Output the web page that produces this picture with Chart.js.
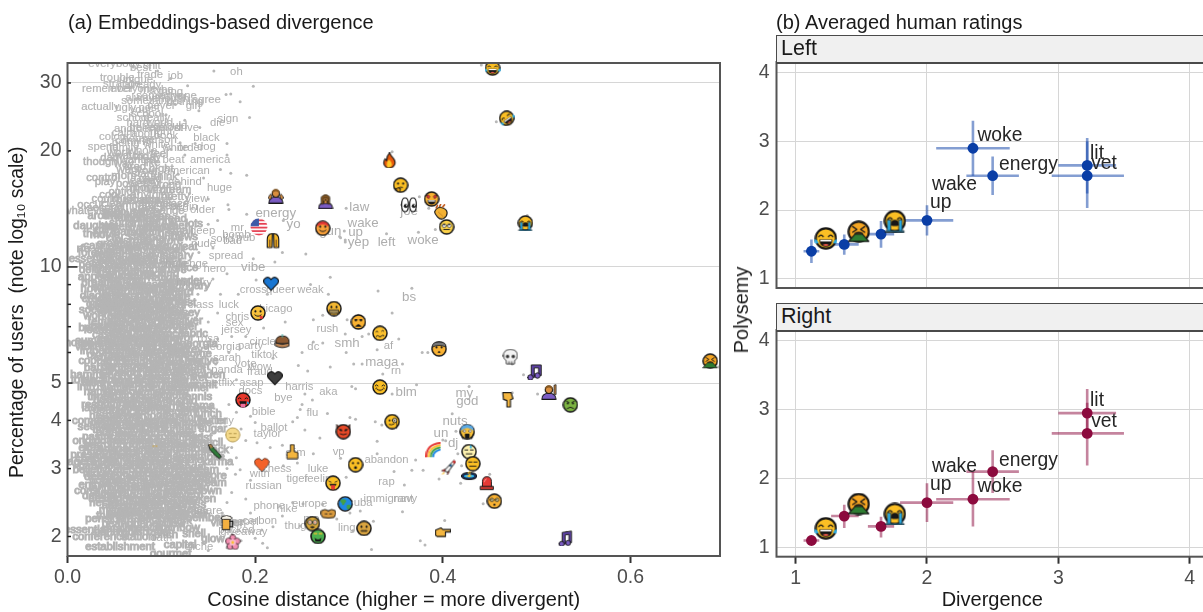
<!doctype html>
<html><head><meta charset="utf-8">
<script src="https://cdn.jsdelivr.net/npm/chart.js@4"></script>
<style>
html,body{margin:0;padding:0;width:1203px;height:612px;overflow:hidden;background:#fff;font-family:'Liberation Sans',Arial,sans-serif;color:#1a1a1a}
canvas{position:absolute}
.t{position:absolute;white-space:nowrap;font-size:20px;line-height:24px}
.strip{position:absolute;left:776px;width:440px;height:26px;background:#f0f0f0;border:1.5px solid #4a4a4a;border-bottom-width:2.5px;font-size:21.5px;line-height:25px;padding-left:4px;box-sizing:content-box}
</style></head><body>
<canvas id="a" width="730" height="612" style="left:0;top:0"></canvas>
<canvas id="bl" width="490" height="258" style="left:730px;top:45px"></canvas>
<canvas id="br" width="490" height="299" style="left:730px;top:313px"></canvas>
<div class="t" style="left:68px;top:10px">(a) Embeddings-based divergence</div>
<div class="t" style="left:776px;top:10px">(b) Averaged human ratings</div>
<div class="strip" style="top:35px">Left</div>
<div class="strip" style="top:303px">Right</div>
<div class="t" style="left:741px;top:310px;transform:translate(-50%,-50%) rotate(-90deg)">Polysemy</div>
<script>
/* ---------- panel (a) axis values ---------- */
const xTicksA=[0,0.2,0.4,0.6];
const yMarksA=[2,3,4,5,6,7,8,9,10,20,30];
const yLabelsA=[2,3,4,5,10,20,30];
const yGridA=[5,10,30];

/* ---------- panel (a) words: [text, cosine distance, % users] ---------- */
const wordsFringe=[["oh",.18,32.1],["job",.115,31.3],["sign",.171,24.2],["die",.16,23.6],["drive",.127,22.9],["book",.105,21.9],["black",.148,21.6],["order",.131,20.3],["dog",.148,20.5],["white",.095,20.7],["beat",.113,18.9],["america",.152,19],["american",.127,17.8],["behind",.125,16.6],["huge",.162,16],["view",.138,15],["begin",.124,14.3],["older",.144,14.1],["energy",.222,13.8],["yo",.241,12.9],["law",.311,14.3],["wake",.315,13],["gun",.28,12.4],["up",.307,12.3],["yep",.31,11.6],["left",.34,11.6],["woke",.379,11.75],["joe",.364,13.9],["bs",.364,8.35],["vibe",.198,10],["spread",.169,10.7],["hero",.157,9.9],["challenge",.124,10.2],["cross",.198,8.7],["queer",.227,8.7],["weak",.259,8.7],["military",.135,9.1],["mr",.181,12.6],["deep",.144,12.4],["bomb",.18,12.1],["pub",.19,11.9],["bad",.176,11.7],["solid",.165,11.8],["nude",.145,11.5],["class",.142,7.95],["luck",.172,7.95],["chris",.181,7.4],["chicago",.219,7.8],["rush",.277,6.9],["smh",.298,6.33],["dc",.262,6.2],["af",.342,6.24],["maga",.335,5.67],["rn",.35,5.37],["blm",.361,4.74],["my",.423,4.7],["god",.426,4.47],["nuts",.413,3.97],["un",.398,3.7],["dj",.411,3.48],["abandon",.34,3.16],["rap",.34,2.77],["immigrant",.342,2.5],["navy",.36,2.5],["cuba",.312,2.44],["lingo",.301,2.11],["harris",.247,4.88],["aka",.278,4.74],["bye",.23,4.58],["fraud",.205,5.33],["bible",.209,4.2],["flu",.261,4.18],["ballot",.22,3.83],["taylor",.213,3.7],["slim",.243,3.3],["vp",.289,3.31],["luke",.267,3],["chess",.223,3],["with",.205,2.9],["russian",.209,2.7],["tiger",.245,2.82],["feeling",.27,2.82],["europe",.258,2.43],["phone",.215,2.4],["hike",.234,2.36],["pro",.26,2.22],["thug",.243,2.13],["giveaway",.188,2.05],["jersey",.18,6.85],["sex",.178,7.15],["circle",.208,6.4],["party",.195,6.25],["tiktok",.21,5.9],["vote",.19,5.6],["wow",.205,5.5],["panda",.17,5.4],["netflix",.163,5],["asap",.196,5],["docs",.195,4.78],["sarah",.17,5.8],["georgia",.165,6.2],["rosa",.15,6.5],["tiny",.168,4],["chapel",.186,2.18],["packed",.18,2.08],["oath",.1,1.98],["cliche",.14,1.88],["carbon",.205,2.2],["share",.15,2.33]];
const wordsUpper=[["everybody",.05,33.6],["best",.078,32.8],["shit",.09,33.3],["trouble",.053,31],["unique",.073,30.6],["strange",.058,29.9],["remember",.043,29],["everyone",.07,28.9],["maybe",.095,28.8],["someone",.098,27.8],["anyone",.118,27.7],["agree",.148,27.1],["something",.085,26.9],["nothing",.125,26.8],["girl",.134,26.2],["actually",.035,26],["ugly",.062,25.9],["your",.078,25.6],["post",.087,25.9],["school",.07,24.3],["really",.095,24.4],["hard",.075,23.6],["world",.098,23.7],["believe",.085,23],["calm",.06,22.3],["about",.083,22.2],["right",.1,22.4],["colour",.05,21.8],["house",.075,21.5],["being",.062,21],["spend",.038,20.5],["family",.06,20.3],["whole",.08,20],["watch",.066,19.4],["today",.085,19.3],["feel",.098,19.6],["dad",.045,19.2],["though",.035,18.7],["way",.06,18.5],["like",.09,18.6],["want",.065,17.9],["your",.085,17.8],["control",.038,17],["mom",.06,17.2],["child",.088,16.9],["play",.04,16.6],["power",.068,16.4],["guy",.09,16.7],["wrong",.105,16.3],["virgin",.1,15.8],["dream",.115,15.8],["cool",.045,15.4],["option",.06,15.7],["could",.04,15],["phase",.095,14.9],["release",.08,14.8],["occur",.025,14.5],["clean",.05,14.6],["company",.07,14.4],["whatever",.02,14],["seriously",.06,13.9],["reach",.09,14.2],["change",.105,14],["around",.04,13.6],["human",.065,13.4],["mean",.095,13.5],["daughter",.03,12.8],["sorry",.058,13],["read",.115,13.3],["online",.08,12.9],["lots",.135,12.9],["matter",.1,12.7],["mine",.042,12.5],["them",.03,12.2],["thanks",.064,12.3],["wait",.088,12.3],["small",.12,12.4],["city",.05,11.9],["stay",.075,12],["point",.1,11.9],["news",.125,12],["ground",.05,11.5],["money",.07,11.4],["early",.09,11.6],["rfo",.017,11.15],["summer",.05,11],["people",.075,11.1],["until",.1,11.2],["great",.125,11.3],["water",.04,10.75],["salary",.118,10.7],["heart",.08,10.7],["essential",.025,10.5],["problem",.055,10.4],["account",.09,10.4],["personal",.035,10.15],["student",.07,10.05],["store",.1,10.15],["rule",.118,10.2],["deliver",.03,9.8],["create",.06,9.75],["simple",.088,9.85],["shore",.112,9.8]];
const wordsUpperExtra=[["trade",.088,31.5],["already",.08,29.6],["thing",.11,28.4],["always",.08,27.5],["enough",.11,27.2],["never",.1,26.1],["school",.085,24.9],["should",.11,23.2],["another",.07,22.8],["almost",.105,22.9],["coming",.07,21.2],["person",.098,21.3],["white",.115,20.4],["work",.055,19.8],["wanted",.075,18.9],["tired",.072,18.2],["night",.1,18],["start",.08,17.4],["think",.105,17.1],["leave",.078,16.7],["mind",.075,15.9],["money",.085,16],["pretty",.115,15.2],["long",.058,15.1],["anything",.09,15.4],["probably",.075,14.9],["maybe",.09,14.6],["place",.115,14.6],["second",.04,14.2],["year",.11,14.4],["rather",.085,13.8],["getting",.055,13.7],["honest",.08,13.3],["during",.1,13.2],["sure",.075,12.6],["other",.115,12.75],["tweet",.05,12.7],["video",.09,12.6],["using",.075,12.25],["bring",.11,12.2],["movie",.04,12.1],["wish",.06,11.7],["after",.082,11.75],["store",.11,11.65],["cannot",.035,11.35],["gonna",.06,11.2],["between",.085,11.25],["speak",.11,11.05],["forever",.03,10.9],["wanna",.06,10.7],["dying",.1,10.75],["second",.045,10.3],["market",.072,10.5],["travel",.105,10.5],["member",.045,9.95],["ready",.08,10.25],["office",.125,9.95]];
const wordsCoreA=[["appear",.03,9.4],["friend",.058,9.45],["table",.08,9.5],["nation",.102,9.35],["wonder",.125,9.2],["breathe",.035,9.1],["market",.06,9.1],["season",.09,9],["hungary",.13,8.95],["how",.025,8.75],["letter",.05,8.7],["morning",.075,8.8],["office",.102,8.75],["weird",.12,8.6],["diagram",.035,8.4],["reason",.062,8.4],["doctor",.09,8.45],["single",.115,8.35],["station",.05,8.1],["kitchen",.073,8.1],["garden",.098,8.15],["forest",.122,8.05],["history",.04,7.9],["window",.065,7.85],["travel",.088,7.9],["mirror",.11,7.75],["engine",.05,7.6],["century",.078,7.55],["bridge",.1,7.6],["jersey",.125,7.6],["village",.06,7.3],["library",.085,7.3],["river",.108,7.3],["silver",.13,7.25],["painter",.043,7.05],["balance",.07,7],["museum",.095,7.05],["brother",.12,7],["local",.03,6.85],["sister",.055,6.75],["number",.08,6.75],["chance",.105,6.7],["fabric",.135,6.7],["cancel",.05,6.5],["capital",.075,6.5],["season",.1,6.5],["home",.012,6.35],["energetic",.04,6.3],["moment",.065,6.25],["lawyer",.09,6.3],["review",.115,6.25],["georgia",.14,6.3],["import",.03,6.05],["dinner",.055,6.05],["factor",.08,6],["teacher",.105,6.05],["welcome",.13,5.95],["stress",.045,5.8],["method",.07,5.8],["policy",.095,5.75],["agency",.12,5.8],["native",.145,5.7],["damage",.058,5.55],["market",.085,5.55],["sample",.11,5.55],["expert",.135,5.5],["mother",.045,5.35],["second",.07,5.3],["artist",.095,5.3],["impact",.12,5.35],["golden",.15,5.25],["total",.015,5.1],["income",.04,5.1],["simply",.065,5.05],["degree",.09,5.1],["cover",.115,5.05],["summit",.14,4.95],["intro",.022,4.9],["bottle",.05,4.85],["series",.075,4.85],["device",.1,4.85],["summer",.13,4.85]];
const wordsCoreB=[["three",.035,4.6],["option",.06,4.65],["player",.085,4.6],["minute",.11,4.65],["tennis",.138,4.6],["resort",.03,4.4],["common",.055,4.45],["figure",.08,4.4],["manner",.105,4.45],["drama",.14,4.35],["double",.045,4.25],["pocket",.07,4.2],["effort",.095,4.25],["region",.12,4.2],["lunch",.15,4.15],["common",.028,4],["search",.05,4.05],["signal",.075,4],["border",.1,4],["custom",.125,4.05],["butter",.155,4],["section",.03,3.85],["nature",.055,3.88],["weight",.08,3.85],["button",.105,3.9],["future",.13,3.85],["sugar",.155,3.8],["plane",.045,3.72],["murder",.07,3.7],["parent",.095,3.72],["career",.12,3.7],["racist",.14,3.6],["origin",.02,3.55],["coffee",.045,3.53],["camera",.07,3.55],["random",.095,3.55],["rescue",.12,3.5],["pencil",.15,3.5],["extra",.025,3.4],["animal",.05,3.38],["object",.075,3.38],["garage",.1,3.4],["pistol",.13,3.38],["stock",.158,3.35],["press",.018,3.25],["master",.045,3.24],["legend",.07,3.24],["office",.095,3.25],["lesson",.12,3.22],["smoke",.15,3.22],["agent",.015,3.12],["client",.04,3.1],["muscle",.065,3.1],["planet",.09,3.12],["sector",.115,3.1],["karma",.16,3.12],["belief",.02,2.98],["ticket",.045,2.97],["people",.07,2.98],["basket",.095,2.97],["voyage",.12,2.97],["steam",.145,2.98],["dear",.03,2.85],["tunnel",.055,2.85],["action",.08,2.84],["insect",.105,2.85],["woman",.13,2.85],["score",.155,2.88],["entry",.025,2.72],["desert",.05,2.73],["orange",.075,2.72],["salmon",.1,2.73],["century",.125,2.74],["scream",.15,2.75],["cons",.02,2.62],["desire",.045,2.6],["thread",.07,2.62],["flight",.095,2.6],["gather",.12,2.63],["down",.15,2.62],["design",.04,2.5],["engage",.065,2.5],["winter",.09,2.5],["bishop",.115,2.5],["broken",.14,2.5],["hazard",.055,2.4],["market",.08,2.4],["tennis",.105,2.4],["across",.13,2.42],["mutual",.06,2.3],["palace",.085,2.3],["stream",.11,2.3],["dress",.135,2.32],["pension",.04,2.22],["runner",.07,2.2],["hockey",.095,2.22],["clerk",.12,2.2],["member",.145,2.23],["viewer",.17,2.17],["essential",.02,2.08],["catalog",.055,2.09],["meeting",.085,2.1],["rainbow",.12,2.1],["conference",.035,2.0],["station",.075,2.0],["pitch",.105,2.02],["shell",.135,2.03],["glow",.155,1.97],["establishment",.056,1.88],["capital",.12,1.9],["gourmet",.11,1.8]];
const wordsCoreC=[["angry",.045,9.6],["bottom",.072,9.65],["around",.1,9.6],["fresh",.048,9.25],["chair",.072,9.25],["grass",.112,9.15],["driver",.04,8.9],["ocean",.068,8.95],["marble",.095,8.85],["tablet",.048,8.55],["pillow",.075,8.6],["freedom",.105,8.55],["credit",.03,8.25],["nurse",.052,8.25],["cousin",.078,8.28],["plenty",.11,8.2],["guitar",.035,8],["sunset",.058,7.98],["player",.085,8],["lawyer",.11,7.95],["soccer",.03,7.75],["farmer",.052,7.72],["trader",.078,7.72],["campus",.098,7.8],["worker",.035,7.45],["parade",.065,7.45],["hunter",.09,7.43],["pirate",.115,7.45],["temple",.04,7.22],["actor",.072,7.15],["rocket",.098,7.18],["jungle",.118,7.12],["banker",.03,6.95],["tissue",.06,6.9],["rabbit",.085,6.9],["puzzle",.11,6.85],["castle",.042,6.65],["candle",.068,6.62],["singer",.092,6.6],["mayor",.118,6.55],["summer",.03,6.45],["pepper",.058,6.4],["ribbon",.083,6.38],["pilot",.108,6.4],["violin",.022,6.2],["throne",.05,6.15],["anchor",.075,6.15],["closet",.1,6.15],["donkey",.125,6.1],["oxygen",.04,5.92],["dollar",.062,5.92],["bakery",.088,5.9],["saddle",.112,5.9],["copper",.03,5.7],["spider",.055,5.68],["magnet",.08,5.68],["carpet",.105,5.65],["velvet",.128,5.65],["barber",.035,5.47],["cotton",.06,5.43],["pillar",.083,5.43],["statue",.105,5.42],["walnut",.13,5.4],["hammer",.025,5.25],["trophy",.052,5.22],["cheese",.08,5.2],["helmet",.105,5.2],["blanket",.13,5.15],["toilet",.028,5.0],["mobile",.052,4.97],["rubber",.078,4.97],["tomato",.105,4.97],["sailor",.125,4.95],["napkin",.035,4.75],["shadow",.06,4.75],["wallet",.088,4.75],["kitten",.115,4.75],["bucket",.045,4.52],["saucer",.072,4.52],["jacket",.095,4.52],["orchid",.122,4.5],["ladder",.032,4.32],["pickle",.06,4.32],["bamboo",.085,4.3],["barrel",.11,4.33],["canvas",.135,4.28],["hermit",.04,4.12],["sleeve",.062,4.12],["almond",.088,4.12],["zipper",.112,4.1],["oyster",.04,3.95],["needle",.065,3.93],["cactus",.09,3.93],["gravel",.115,3.95],["maple",.138,3.95],["turtle",.04,3.78],["kettle",.068,3.78],["lizard",.092,3.8],["tunnel",.118,3.78],["pastry",.032,3.63],["cattle",.058,3.63],["ginger",.082,3.63],["collar",.108,3.63],["fridge",.13,3.62],["parrot",.033,3.46],["tripod",.06,3.46],["magpie",.085,3.47],["herbal",.11,3.45],["beacon",.135,3.45],["puppet",.035,3.32],["nickel",.06,3.31],["quartz",.088,3.32],["shovel",.11,3.32],["thrift",.14,3.3],["cheddar",.03,3.18],["bandit",.055,3.18],["crayon",.08,3.18],["hornet",.105,3.18],["fiddle",.13,3.16],["barley",.028,3.05],["locust",.055,3.04],["wizard",.08,3.04],["harbor",.105,3.04],["sandal",.13,3.03],["turkey",.033,2.91],["pigeon",.06,2.91],["goblin",.085,2.91],["meadow",.11,2.91],["cymbal",.135,2.91],["potato",.04,2.78],["walrus",.065,2.78],["muffin",.09,2.78],["garlic",.115,2.79],["dragon",.14,2.79],["lentil",.035,2.67],["biscuit",.06,2.67],["cobalt",.085,2.67],["violet",.11,2.67],["falcon",.135,2.68],["denim",.032,2.55],["zephyr",.055,2.56],["sponge",.08,2.55],["ferret",.105,2.56],["tavern",.128,2.56],["nectar",.04,2.45],["quiver",.068,2.45],["beaver",.095,2.45],["cougar",.12,2.46],["mitten",.05,2.35],["pewter",.072,2.35],["hamlet",.098,2.35],["sorrel",.122,2.36],["thimble",.05,2.26],["vendor",.08,2.26],["badger",.105,2.26],["lagoon",.13,2.27],["peanut",.055,2.16],["gopher",.082,2.15],["willow",.11,2.16],["pantry",.045,2.05],["radish",.07,2.05],["tailor",.098,2.06]];

/* ---------- panel (a) small dots: [cosine distance, % users] ---------- */
const dotsRight=[[.441,33.4],[.457,23.8],[.346,19.9],[.375,15.2],[.356,14.5],[.385,14.2],[.297,14.2],[.392,12.5],[.374,12.3],[.34,12.2],[.49,13.6],[.295,12.4],[.296,11.75],[.291,11.9],[.331,8.66],[.367,8.8],[.31,7.5],[.346,7.6],[.298,7.3],[.296,6.7],[.314,6.6],[.321,6.7],[.353,6.5],[.33,6.1],[.297,6],[.378,6],[.384,6],[.305,5.6],[.314,5.6],[.357,5.6],[.336,5.28],[.486,5.25],[.474,5.6],[.694,5.5],[.303,4.9],[.307,4.83],[.372,4.95],[.428,4.9],[.346,4.68],[.474,4.72],[.501,4.68],[.41,4.16],[.301,4.07],[.307,4.03],[.328,3.97],[.335,3.89],[.414,3.75],[.4,3.56],[.403,3.54],[.33,3.53],[.416,3.28],[.33,3.28],[.291,3.19],[.371,3.16],[.42,3.05],[.367,2.97],[.379,2.97],[.348,2.95],[.45,2.9],[.297,2.85],[.396,2.82],[.419,2.75],[.359,2.72],[.443,2.43],[.312,2.33],[.357,2.32],[.402,2.2],[.326,2.19],[.304,2.07],[.376,1.95],[.381,1.9],[.324,1.85],[.532,2.05]];
const dotsMiddle=[[.156,32.2],[.198,29.4],[.169,28],[.174,28.1],[.184,26.8],[.194,24.4],[.141,23],[.17,20.9],[.17,19.5],[.163,17.9],[.174,17.5],[.191,17.3],[.171,14.5],[.172,14.1],[.191,13.7],[.23,13.2],[.29,12],[.296,11.6],[.229,10.9],[.254,10.8],[.198,10.5],[.221,10.3],[.28,9.4],[.259,9],[.201,9.25],[.182,8.5],[.278,8.5],[.213,8.5],[.163,8.5],[.139,8.5],[.262,7.3],[.272,7.5],[.232,7.2],[.209,6.95],[.272,6.35],[.262,6.39],[.219,5.8],[.25,6],[.28,5.5],[.256,5.37],[.246,5.55],[.253,4.68],[.261,4.52],[.25,4.4],[.277,4.17],[.248,4.27],[.245,4.07],[.24,3.97],[.269,3.6],[.253,3.78],[.229,3.45],[.216,3.4],[.202,3.5],[.262,3.28],[.23,3.05],[.245,3.1],[.184,2.98],[.179,2.9],[.24,2.45],[.251,2.43],[.272,2.42],[.287,2.22],[.301,2.3],[.229,2.26],[.219,2.12],[.207,2.08],[.213,1.87],[.208,1.92],[.248,2.13],[.255,2.21]];
const dotsBlobEdge=[[.07,33],[.096,32.2],[.11,30.8],[.128,29.5],[.075,27.4],[.115,26.4],[.14,25.4],[.105,24.8],[.125,24],[.092,23.2],[.12,21],[.136,20.9],[.11,20.2],[.125,19.5],[.105,18.2],[.118,17.4],[.145,17],[.13,15.5],[.15,15],[.125,14.6],[.16,13.2],[.15,12.9],[.155,11.2],[.14,10.9],[.17,9.6],[.155,9.3],[.148,8.8],[.16,7.6],[.15,7.2],[.175,6.6],[.16,6.5],[.19,6.6],[.172,6],[.158,5.6],[.18,5.1],[.19,4.6],[.172,4.4],[.18,4.2],[.195,4.1],[.2,3.95],[.185,3.8],[.19,3.55],[.175,3.4],[.165,3.2],[.18,3.2],[.17,3],[.195,2.8],[.175,2.6],[.19,2.5],[.17,2.45],[.165,2.3],[.195,2.3],[.185,1.95],[.17,1.87],[.15,1.84],[.2,1.98]];

/* ---------- panel (a) icons ---------- */
const emojiNames=["joy","rofl","fire","think","hearteyes","eyes","clap","rolleyes","sob","shrug","facepalm","flag","hands","blush","blueheart","yum","mask","fearful","woozy","cake","blackheart","exploding","skull","notes","smile","raisehand","pointdown","sick","vomit","monocle","scream","redface","devil","paleface","bottle","finger","rainbow","sweat","expressionless","hushed","rocket","orangeheart","tongue","hole","siren","globe","dizzy","beer","pouty","starstruck","neutral","money","flower","pointright","note","faint"];
const emojiX=[.453,.468,.343,.355,.388,.364,.398,.404,.488,.222,.275,.204,.219,.272,.217,.203,.284,.31,.333,.229,.221,.396,.472,.498,.333,.513,.47,.536,.685,.346,.426,.187,.294,.176,.157,.24,.39,.428,.432,.307,.406,.207,.283,.428,.447,.296,.455,.17,.278,.261,.316,.267,.176,.4,.531,.093];
const emojiY=[32.8,24.3,18.9,16.3,15,14.5,13.9,12.7,13,15.3,14.8,12.7,11.7,12.6,9.05,7.6,7.8,7.2,6.73,6.4,5.15,6.13,5.85,5.34,4.88,4.74,4.52,4.39,5.7,3.97,3.74,4.52,3.74,3.67,3.32,3.32,3.35,3.32,3.09,3.07,3.02,3.07,2.75,2.87,2.75,2.43,2.47,2.17,2.28,2.16,2.1,2,1.93,2.05,1.98,3.43];

/* ---------- panel (b) values ---------- */
const xTicksB=[1,2,3,4];
const yTicksB=[1,2,3,4];
const divergence=[1.12,1.37,1.65,2.0,2.35,2.5,3.22,3.22];
const divLow=[1.06,1.27,1.55,1.795,2.07,2.3,3.0,2.95];
const divHigh=[1.18,1.48,1.75,2.2,2.63,2.7,3.44,3.5];
const polyLeft=[1.4,1.5,1.65,1.85,2.9,2.5,2.65,2.5];
const polyLeftLow=[1.23,1.35,1.45,1.63,2.5,2.22,2.24,2.03];
const polyLeftHigh=[1.57,1.645,1.84,2.07,3.3,2.78,3.05,3.0];
const polyRight=[1.1,1.455,1.305,1.65,1.7,2.1,2.95,2.655];
const polyRightLow=[1.05,1.28,1.145,1.37,1.305,1.79,2.6,2.19];
const polyRightHigh=[1.15,1.62,1.445,1.93,2.1,2.41,3.3,3.1];
const ratedEmoji=["joy","vomit","sob"];
const ratedEmojiX=[1.23,1.48,1.755];
const ratedEmojiLeft=[1.587,1.685,1.84];
const ratedEmojiRight=[1.277,1.63,1.485];
const ratedWords=["woke","energy","wake","up","lit","vet"];
const ratedWordX=[2.384,2.548,2.038,2.023,3.242,3.25];
const ratedWordLeft=[3.08,2.665,2.364,2.11,2.825,2.67];
const ratedWordRight=[1.883,2.262,2.165,1.913,3.13,2.82];

/* ---------- icon artwork ---------- */
const c=(x,y,r)=>`M${x-r} ${y}a${r} ${r} 0 1 0 ${2*r} 0a${r} ${r} 0 1 0 ${-2*r} 0z`;
const Y='#fbbf24',K='#161616',BL='#29a9e0',W='#fff',PU='#7b5cc4',SK='#d98e3f';
const face=(col=Y)=>[c(50,50,44),col,K,9];
const dots=[[c(34,40,6.5),K],[c(66,40,6.5),K]];
const arcs=[["M20 42q9-13 18 0",null,K,6],["M62 42q9-13 18 0",null,K,6]];
const smileM=["M30 62q20 18 40 0",null,K,6],frown=["M30 72q20-16 40 0",null,K,6],flat=["M32 66h36",null,K,6];
const openM=[["M22 54h56q0 32-28 32t-28-32z",K],["M26 56h48v7H26z",W],["M36 78q14-8 28 0q-14 10-28 0z",'#e8574a']];
const person=(hair)=>[["M6 96q0-38 44-38t44 38z",PU,K,7],[c(50,36,23),SK,K,7],["M27 34q0-26 23-26t23 26q-10-12-23-12t-23 12z",hair]];
const ART={
 joy:[face(),...arcs,...openM,["M2 52q12 2 16 16q-8 8-16 0z",BL],["M98 52q-12 2-16 16q8 8 16 0z",BL]],
 rofl:[face(),...arcs,...openM,["M2 52q12 2 16 16q-8 8-16 0z",BL],["M98 52q-12 2-16 16q8 8 16 0z",BL],{rot:-35}],
 sob:[face(),...arcs,["M36 50q14-10 28 0l4 18q-18 8-36 0z",K],["M18 45h14v50H18z",BL,K,3],["M68 45h14v50H68z",BL,K,3],["M10 92h80v6H10z",BL,K,3]],
 vomit:[face('#f6a623'),["M24 28l18 12l-18 12M76 28l-18 12l18 12",null,K,6],["M34 58q16-10 32 0",null,K,6],["M34 60h32l28 32H6z",'#2e7d32',K,5]],
 sick:[face('#7cb342'),...dots,frown,["M24 26l16 8M76 26l-16 8",null,K,5]],
 fire:[["M52 2q8 22 24 36q16 22 6 40q-10 20-32 20t-32-20q-8-18 6-38q4 10 10 12q-2-28 18-50z",'#e8590c',K,7],["M50 46q16 18 16 30t-16 18t-16-18t16-30z",'#ffca28']],
 think:[face(),...dots,["M36 66q14-6 26-2",null,K,6],["M20 72q18-12 30 2l-8 18q-14 4-22-20z",'#e8a317',K,6]],
 hearteyes:[face('#f9b233'),["M20 26q10-6 16 4q8 4-4 18q-20-8-12-22zM80 26q-10-6-16 4q-8 4 4 18q20-8 12-22z",'#e53935',K,3],["M24 56h52q0 28-26 28t-26-28z",K],["M28 58h44v8H28z",W]],
 eyes:[["M4 50q0-44 21-44t21 44t-21 44t-21-44z",W,K,7],["M54 50q0-44 21-44t21 44t-21 44t-21-44z",W,K,7],[c(30,58,13),K],[c(80,58,13),K],[c(34,54,4),W],[c(84,54,4),W]],
 clap:[["M10 50q16-36 46-26t32 30q2 24-20 36t-40-8t-18-32z",'#f2b134',K,7],["M20 24l8-14M42 14l6-10M62 18l10-12",null,'#c2571a',10],["M34 52l28 26",null,'#b8761a',4]],
 rolleyes:[face('#fcd24a'),[c(34,42,12),W,K,4],[c(66,42,12),W,K,4],[c(34,36,5),K],[c(66,36,5),K],flat],
 shrug:[...person('#8a5a22'),["M2 62l14-22l10 8l-8 24zM98 62l-14-22l-10 8l8 24z",SK,K,5]],
 facepalm:[...person('#8a5a22'),["M36 62l14-26l14 26z",SK,K,5],["M24 22q26-22 52 0v46H64V30H36v38H24z",'#8a5a22',K,4]],
 raisehand:[...person('#8a5a22'),["M82 60V8l12-4v60z",SK,K,5]],
 flag:[{clip:c(50,50,47)},["M0 0h100v100H0z",W],["M0 8h100v10H0zM0 28h100v10H0zM0 48h100v10H0zM0 68h100v10H0zM0 88h100v10H0z",'#e53d4f'],["M0 0h50v46H0z",'#3c5aa8']],
 hands:[["M14 92V42q0-34 32-38l-2 88z",'#f0b429',K,7],["M86 92V42q0-34-32-38l2 88z",'#f0b429',K,7],["M30 92V46M70 92V46",null,'#8a5a22',8]],
 blush:[face('#f9a13a'),["M14 40q2-30 36-32q36 2 36 32q-16-14-36-14t-36 14z",'#e53935'],...dots,smileM],
 blueheart:[["M50 92L8 48Q-4 26 16 14t34 10q14-22 34-10t8 34z",'#1976d2',K,7]],
 orangeheart:[["M50 92L8 48Q-4 26 16 14t34 10q14-22 34-10t8 34z",'#f4622a',K,4]],
 blackheart:[["M50 92L8 48Q-4 26 16 14t34 10q14-22 34-10t8 34z",'#3d3d3d',K,7]],
 yum:[face('#f9c23c'),...dots,smileM,["M58 70q20-8 24 8q-4 14-18 8z",'#e53935']],
 mask:[face('#f2b632'),...dots,["M22 58h56v18q-28 12-56 0z",'#a08c5a',K,4]],
 fearful:[face('#f9b233'),["M28 36h14M58 36h14",null,K,7],...dots,["M34 76q16-22 32 0z",K,K,4]],
 woozy:[face('#fbc02d'),["M24 40q8-8 14 0M60 36q8-8 14 0",null,K,5],["M26 70q8-10 16-2t16 0t16-4",null,K,6]],
 cake:[["M8 52q0-38 42-38t42 38q0 10-42 10t-42-10z",'#8d5a33',K,6],["M8 58q42 18 84 0v18q-42 22-84 0z",'#c48a58',K,6],["M50 2v20",null,'#4db6ac',6]],
 exploding:[face('#f9b233'),...dots,["M40 70q10-12 20 0q-10 10-20 0z",K],["M8 38q-4-32 42-32t42 32q-20-10-42-10t-42 10z",'#777',K,5]],
 skull:[["M6 44q0-40 44-40t44 40q0 22-18 30v20H24V74Q6 66 6 44z",'#f3f3f3',K,5],[c(32,48,11),'#333'],[c(68,48,11),'#333'],["M42 92V80M58 92V80",null,K,4]],
 notes:[["M30 6h60v66H74V24H46v60H30z",'#5e42a6',K,6],[c(22,84,17),'#7b5cc4',K,6],[c(66,72,17),'#7b5cc4',K,6]],
 note:[["M30 14l56-8v72H70V26L46 30v58H30z",'#5e42a6',K,6],[c(24,86,16),'#7b5cc4',K,6],[c(64,80,16),'#7b5cc4',K,6]],
 smile:[face('#fbbf24'),...arcs,smileM,["M22 60l8-6M78 60l-8-6",null,K,4]],
 pointdown:[["M14 4h52l12 38l-16 6v46H40V54L18 46z",'#f4b63f',K,7]],
 pointright:[["M4 36l34-14l12 10h48v16H66v28H14L4 68z",'#f4b63f',K,7]],
 finger:[["M16 54l20-4V6h22v44l24 6v38H16z",'#f4b63f',K,6]],
 monocle:[face(),[c(66,42,14),'#fff7d6',K,6],[c(66,42,5),K],[c(34,42,6),K],["M32 68q16 6 30-4",null,K,6],["M78 52v40",null,K,4]],
 scream:[face('#f9c23c'),["M10 44Q8 6 50 6t40 38q-20-18-40-18t-40 18z",'#5aa9e6'],[c(32,46,8),W,K,3],[c(68,46,8),W,K,3],["M36 62h28q6 30-14 30t-14-30z",K],["M8 58l14 34h56l14-34",null,K,7]],
 redface:[face('#e8382c'),...arcs,["M28 58h44q0 26-22 26t-22-26z",K],["M36 74h28v22H36z",'#ec6fa0'],["M78 58q12 6 8 18q-10 2-12-8z",BL]],
 devil:[["M10 6l16 16l-16 16zM90 6l-16 16l16 16z",'#d83a20',K,5],face('#e84a28'),["M24 36l18 8M76 36l-18 8",null,K,6],...dots,["M30 64q20 12 40 0",null,K,6]],
 paleface:[[c(50,50,44),'#f4d98a','#b59a52',6],["M28 42h14M58 42h14",null,'#a68a3c',5],["M32 66h36",null,'#a68a3c',5]],
 bottle:[["M12 6l14-2l14 20l32 34l18 24l-12 12l-24-18l-32-34z",'#2f7a3a',K,6],["M12 6l14-2l12 18l-14 10z",'#a77b4c']],
 rainbow:[["M6 90Q6 14 90 6",null,'#e53935',12],["M20 90Q22 30 90 20",null,'#fbc02d',12],["M34 90Q36 44 90 34",null,'#43a047',12],["M48 90Q50 58 90 48",null,'#1e88e5',12]],
 sweat:[face('#fff3b0'),["M24 40h18M58 40h18",null,K,6],["M32 64h36",null,K,6],["M60 6q12 14 6 24q-12 2-12-8z",BL]],
 expressionless:[face(),["M24 40h20M56 40h20",null,K,6],["M30 66h40",null,K,6]],
 hushed:[face(),...dots,[c(50,68,9),K]],
 rocket:[["M26 66L84 6q8 4 10 10l-48 64z",'#f4f4f4',K,6],["M74 14l12-10l10 10l-10 14z",'#d32f2f'],[c(64,38,7),'#1e88e5',K,3],["M28 60L6 70l20 6zM46 78l-4 20l14-22z",'#e53935',K,3],["M22 78l-18 18l22-8z",'#fbc02d']],
 tongue:[face(),["M24 38l14 6M76 38l-14 6",null,K,5],["M28 54h44q0 14-22 14t-22-14z",K],["M38 62h24v24q-12 8-24 0z",'#e53935']],
 hole:[["M2 50q0-22 48-22t48 22t-48 22t-48-22z",'#1a2f55',K,6],["M18 50q0-10 32-10t32 10t-32 10t-32-10z",'#29b6f6'],["M44 30l12-10v22zM34 50l30 0",null,'#fbc02d',5],[c(50,50,8),'#fbc02d']],
 siren:[["M22 70V40q0-30 28-30t28 30v30z",'#e53935',K,6],["M10 70h80v20H10z",'#cf3a32',K,6],["M34 40q2-14 12-16",null,'#ffb3ad',5]],
 globe:[[c(50,50,44),'#1e88e5',K,8],["M22 24q20-8 32 2q6 12-6 20q-6 18-16 10q-2-14-12-18zM60 58q18-8 26 2q-4 22-18 26q-14-12-8-28z",'#43a047']],
 dizzy:[face('#f9b233'),[c(34,42,11),'#f6e29a',K,5],[c(66,42,11),'#f6e29a',K,5],[c(34,42,3),K],[c(66,42,3),K],[c(50,72,7),K]],
 beer:[["M22 24h46v68H22z",'#f4b041',K,6],["M14 22q0-16 18-14q16-10 30 0q18-2 16 16q-2 8-14 4H28q-12 4-14-6z",'#f7f3e8',K,5],["M68 40h18v34H68",null,K,7]],
 pouty:[["M50 26q20-16 44 0q8 20-8 42q-36 8-72 0q-16-22-8-42q24-16 44 0z",'#d99a3e',K,6],["M30 46h12M58 46h12",null,K,5]],
 starstruck:[face('#d9a93a'),[c(34,42,14),'#f4f0d0',K,5],[c(66,42,14),'#f4f0d0',K,5],[c(34,42,5),'#e53935'],[c(66,42,5),'#e53935'],["M34 72q16-12 32 0q-16 14-32 0z",K]],
 neutral:[face('#d9a440'),...dots,["M30 66h40M38 60v12M50 60v12M62 60v12",null,K,4]],
 money:[face('#4caf50'),["M26 32h16M58 32h16",null,'#fbc02d',9],["M28 58q22 22 44 0l-6 24H34z",K],["M8 30q-4 20 2 28M92 30q4 20-2 28",null,K,6]],
 flower:[[c(50,22,20),'#f48fb1',K,4],[c(24,42,20),'#f48fb1',K,4],[c(76,42,20),'#f48fb1',K,4],[c(34,74,20),'#f48fb1',K,4],[c(66,74,20),'#f48fb1',K,4],[c(50,50,20),'#f8bbd0'],[c(50,50,9),'#fbc02d']],
 faint:[["M10 40h30v20H10zM60 40h30v20H60z",'#d8a52e']]
};
function icon(name,size){
  const cv=document.createElement('canvas');cv.width=cv.height=size;
  const g=cv.getContext('2d');g.scale(size/100,size/100);g.lineJoin='round';g.lineCap='round';
  const shapes=ART[name]||[];
  const rot=shapes.find(s=>s.rot);
  if(rot){g.translate(50,50);g.rotate(rot.rot*Math.PI/180);g.translate(-50,-50);}
  for(const s of shapes){
    if(s.rot)continue;
    if(s.clip){g.clip(new Path2D(s.clip));continue;}
    const p=new Path2D(s[0]);
    if(s[1]){g.fillStyle=s[1];g.fill(p);}
    if(s[2]&&s[3]){g.strokeStyle=s[2];g.lineWidth=s[3];g.stroke(p);}
  }
  return cv;
}

/* ---------- shared styling ---------- */
const FONT="'Liberation Sans',Arial,sans-serif";
const TICK='#4d4d4d',BORDER='#555',GRID='#d6d6d6';
Chart.defaults.font.family=FONT;
Chart.defaults.animation=false;
Chart.defaults.responsive=false;
const boxPlugin={id:'box',afterDraw(ch){const a=ch.chartArea,g=ch.ctx;g.save();g.strokeStyle=BORDER;g.lineWidth=2;g.strokeRect(a.left,a.top,a.right-a.left,a.bottom-a.top);g.restore();}};

/* ---------- panel (a) ---------- */
const looseWords=[...wordsUpper,...wordsUpperExtra];
const coreWords=[...wordsCoreA,...wordsCoreB,...wordsCoreC];
const largeWords=new Set(["energy","yo","law","wake","gun","up","yep","left","woke","vibe","smh","maga","blm","my","god","nuts","un","dj","joe","bs"]);
const wordPlugin={id:'words',afterDatasetDraw(ch,args){
  if(args.index!==1)return;
  const a=ch.chartArea,g=ch.ctx,X=ch.scales.x,Yy=ch.scales.y;
  g.save();g.beginPath();g.rect(a.left,a.top,a.right-a.left,a.bottom-a.top);g.clip();
  g.fillStyle='#b4b4b4';g.strokeStyle='#b4b4b4';g.textAlign='center';g.textBaseline='middle';
  g.font='11.3px '+FONT;
  for(const [t,x,y] of looseWords){
    const px=X.getPixelForValue(x),py=Yy.getPixelForValue(y);
    g.lineWidth=y<14?1:(y<20?.5:.2);
    g.fillText(t,px,py);g.strokeText(t,px,py);
  }
  g.lineWidth=1.15;
  for(const [t,x,y] of coreWords){
    const px=X.getPixelForValue(x),py=Yy.getPixelForValue(y);
    g.fillText(t,px,py);g.strokeText(t,px,py);
  }
  g.fillStyle='#aeaeae';
  for(const [t,x,y] of wordsFringe){
    g.font=(largeWords.has(t)?13.3:11.3)+'px '+FONT;
    g.fillText(t,X.getPixelForValue(x),Yy.getPixelForValue(y));
  }
  g.restore();
}};
const yTickPlugin={id:'ytick',afterDraw(ch){
  const g=ch.ctx,a=ch.chartArea,S=ch.scales.y;
  g.save();g.strokeStyle='#222';g.lineWidth=1.5;
  for(const v of yMarksA){const p=S.getPixelForValue(v);const l=v===10?10:(v===5?5:3.5);
    g.beginPath();g.moveTo(a.left,p);g.lineTo(a.left+l,p);g.stroke();}
  g.restore();
}};
new Chart(document.getElementById('a'),{
  type:'scatter',
  data:{datasets:[
    {data:emojiX.map((x,i)=>({x,y:emojiY[i]})),pointStyle:emojiNames.map(n=>icon(n,n==='faint'?6:(n==='flag'?18:16))),pointRadius:8,clip:0},
    {data:[...dotsBlobEdge,...dotsMiddle,...dotsRight].map(([x,y])=>({x,y})),pointRadius:1.5,pointBorderWidth:0,pointBackgroundColor:'#b8b8b8',clip:0}
  ]},
  options:{
    devicePixelRatio:1,
    layout:{padding:{top:63,right:10,left:0,bottom:0}},
    plugins:{legend:{display:false},tooltip:{enabled:false}},
    scales:{
      x:{type:'linear',min:0,max:.6954,
        afterFit:s=>{s.height=56;},
        afterBuildTicks:s=>{s.ticks=xTicksA.map(v=>({value:v}));},
        grid:{drawOnChartArea:false,tickColor:'#333',tickWidth:2,tickLength:7},border:{display:false},
        ticks:{color:TICK,font:{size:19.5},padding:3,maxRotation:0,callback:v=>Number(v).toFixed(1)},
        title:{display:true,text:'Cosine distance (higher = more divergent)',color:'#1a1a1a',font:{size:20},padding:0}},
      y:{type:'logarithmic',min:1.78,max:33.8,
        afterFit:s=>{s.width=67.5;},
        afterBuildTicks:s=>{s.ticks=yMarksA.map(v=>({value:v}));},
        grid:{drawTicks:false,lineWidth:1,color:t=>yGridA.includes(t.tick&&t.tick.value)?GRID:'rgba(0,0,0,0)'},border:{display:false},
        ticks:{color:TICK,font:{size:19.5},padding:6,autoSkip:false,callback:v=>yLabelsA.includes(v)?String(v):''},
        title:{display:true,text:'Percentage of users  (note log\u2081\u2080 scale) ',color:'#1a1a1a',font:{size:19.4},padding:{top:6,bottom:0}}}
    }
  },
  plugins:[wordPlugin,boxPlugin,yTickPlugin]
});

/* ---------- panel (b) ---------- */
function ratingChart(id,poly,low,high,col,barCol,emY,wordY,bottom,topPad){
  const emojiIcons=ratedEmoji.map(n=>icon(n,23));
  const hBars=divergence.map((x,i)=>({data:[{x:divLow[i],y:poly[i]},{x:divHigh[i],y:poly[i]}],showLine:true,borderColor:barCol,borderWidth:2.6,pointRadius:0,borderCapStyle:'butt'}));
  const vBars=divergence.map((x,i)=>({data:[{x,y:low[i]},{x,y:high[i]}],showLine:true,borderColor:barCol,borderWidth:2.6,pointRadius:0,borderCapStyle:'butt'}));
  const labelPlugin={id:'lab',afterDatasetsDraw(ch){
    const g=ch.ctx;g.save();g.fillStyle='#262626';g.font='19.3px '+FONT;g.textAlign='left';g.textBaseline='middle';
    ratedWords.forEach((t,i)=>g.fillText(t,ch.scales.x.getPixelForValue(ratedWordX[i]),ch.scales.y.getPixelForValue(wordY[i])));
    g.restore();
  }};
  new Chart(document.getElementById(id),{
    type:'scatter',
    data:{datasets:[
      {data:ratedEmojiX.map((x,i)=>({x,y:emY[i]})),pointStyle:emojiIcons,pointRadius:11},
      {data:divergence.map((x,i)=>({x,y:poly[i]})),pointRadius:5.4,pointBorderWidth:0,pointBackgroundColor:col},
      ...hBars,...vBars
    ]},
    options:{
      devicePixelRatio:1,
      layout:{padding:{top:topPad,right:10,left:0,bottom:0}},
      plugins:{legend:{display:false},tooltip:{enabled:false}},
      scales:{
        x:{type:'linear',min:.854,max:4.14,
          afterFit:s=>{s.height=bottom;s.paddingLeft=0;s.paddingRight=0;},
          afterBuildTicks:s=>{s.ticks=xTicksB.map(v=>({value:v}));},
          grid:{color:GRID,lineWidth:1,tickColor:'#333',tickWidth:2,tickLength:bottom>20?7:0,drawTicks:bottom>20},border:{display:false},
          ticks:{display:bottom>20,color:TICK,font:{size:19.5},padding:3,maxRotation:0,callback:v=>String(v)},
          title:{display:bottom>20,text:'Divergence',color:'#1a1a1a',font:{size:20},padding:0}},
        y:{type:'linear',min:.865,max:4.156,
          afterFit:s=>{s.width=46.5;s.paddingTop=0;s.paddingBottom=0;},
          afterBuildTicks:s=>{s.ticks=yTicksB.map(v=>({value:v}));},
          grid:{color:GRID,lineWidth:1,drawTicks:false},border:{display:false},
          ticks:{color:TICK,font:{size:19.5},padding:7,callback:v=>String(v)}}
      }
    },
    plugins:[labelPlugin,boxPlugin]
  });
}
ratingChart('bl',polyLeft,polyLeftLow,polyLeftHigh,'#0a3ea6','rgba(10,62,166,.5)',ratedEmojiLeft,ratedWordLeft,15,17);
ratingChart('br',polyRight,polyRightLow,polyRightHigh,'#8c0a3e','rgba(140,10,62,.5)',ratedEmojiRight,ratedWordRight,55.3,17);
</script>
</body></html>
